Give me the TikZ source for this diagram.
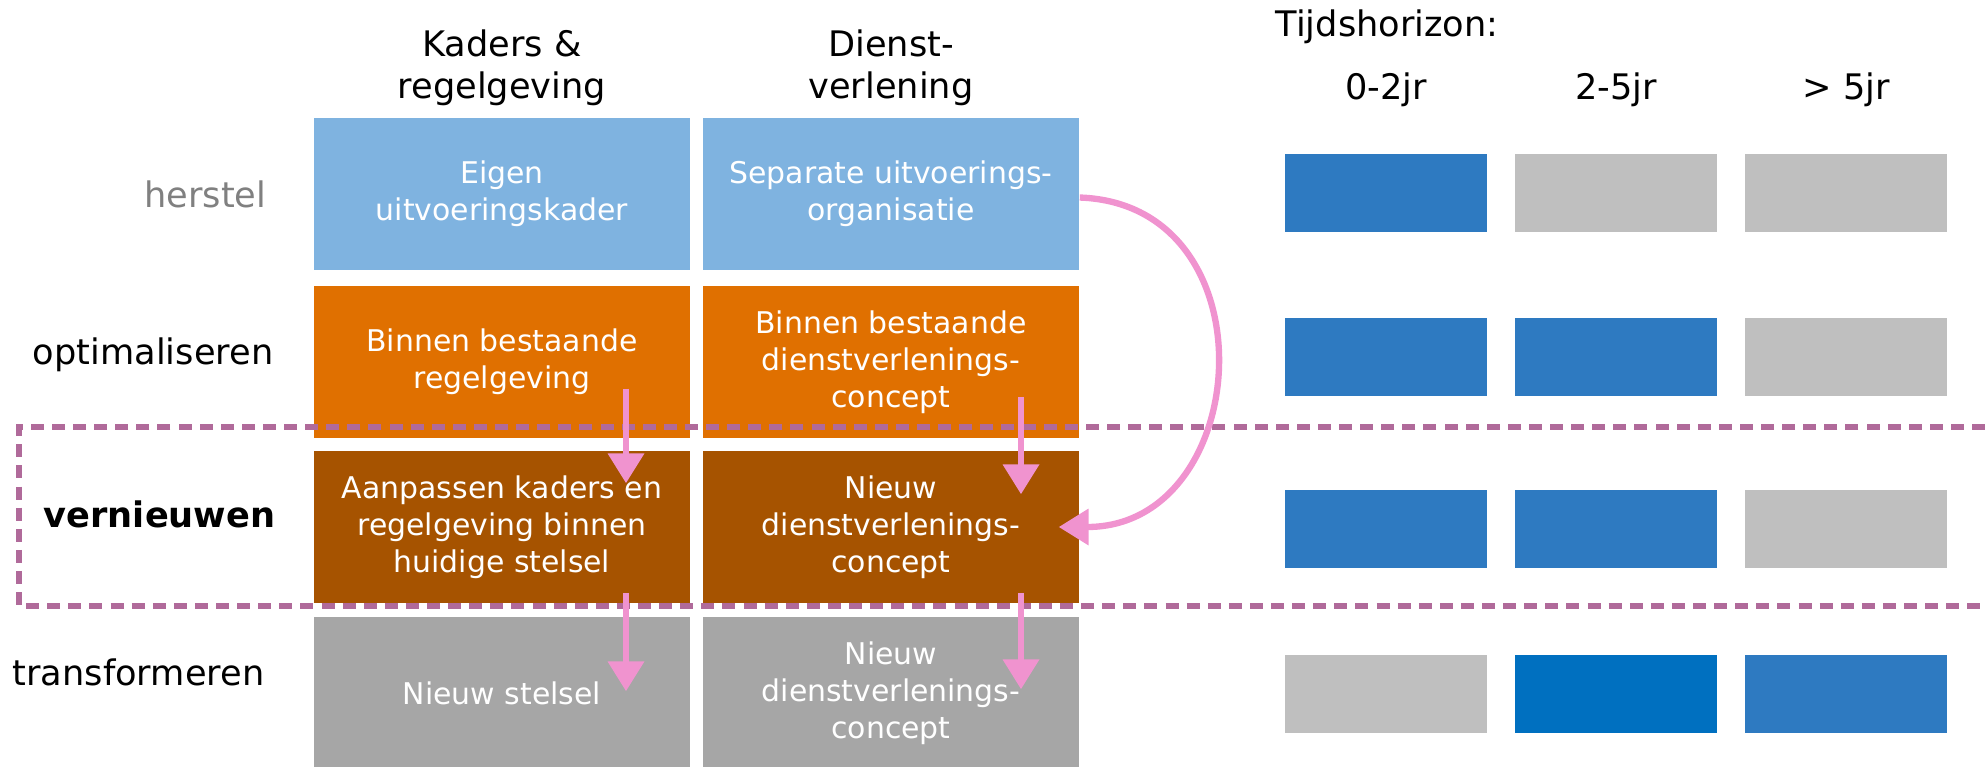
\documentclass[tikz,border=0pt]{standalone}
\usepackage{fontspec}
\setmainfont{DejaVu Sans}
\usetikzlibrary{arrows.meta}

\definecolor{hblue}{HTML}{7FB3E0}
\definecolor{oorange}{HTML}{E07000}
\definecolor{vbrown}{HTML}{A65300}
\definecolor{tgrey}{HTML}{A6A6A6}
\definecolor{bblue}{HTML}{2E7AC1}
\definecolor{dblue}{HTML}{0070C0}
\definecolor{lgrey}{HTML}{BFBFBF}
\definecolor{pinkarr}{HTML}{F093CF}
\definecolor{dashpurple}{HTML}{B06A9A}

\begin{document}
\begin{tikzpicture}[
    x=0.01cm, y=-0.01cm,
    cell/.style={minimum width=3.76cm, minimum height=1.52cm, inner sep=0pt,
                 align=center, text=white, font=\fontsize{8.5}{10.5}\selectfont},
    bar/.style={minimum width=2.02cm, minimum height=0.77cm, inner sep=0pt},
    head/.style={align=center, inner sep=0pt, font=\fontsize{10}{12}\selectfont},
    rowlabel/.style={anchor=base east, inner sep=0pt, font=\fontsize{10}{12}\selectfont},
    flow/.style={-{Triangle[length=8.5pt, width=10pt]}, line width=1.8pt, pinkarr}
]
    \useasboundingbox (0,0) rectangle (1985,767);

    % Column headers
    \node[head, anchor=base] (kaders) at (502,99) {Kaders \&\\regelgeving};
    \node[head, anchor=base] (dienst) at (891,99) {Dienst-\\verlening};

    % Row labels
    \node[rowlabel, text=gray] (herstel) at (267,208) {herstel};
    \node[rowlabel] (optim) at (274,364) {optimaliseren};
    \node[rowlabel, font=\fontsize{10}{12}\selectfont\bfseries] (vernieuw) at (276,527) {vernieuwen};
    \node[rowlabel] (transf) at (265,685) {transformeren};

    % Matrix cells
    \node[cell, fill=hblue] (eigen) at (502,194) {Eigen\\uitvoeringskader};
    \node[cell, fill=hblue] (separ) at (891,194) {Separate uitvoerings-\\organisatie};
    \node[cell, fill=oorange] (binreg) at (502,362) {Binnen bestaande\\regelgeving};
    \node[cell, fill=oorange] (bindv) at (891,362) {Binnen bestaande\\dienstverlenings-\\concept};
    \node[cell, fill=vbrown] (aanp) at (502,527) {Aanpassen kaders en\\regelgeving binnen\\huidige stelsel};
    \node[cell, fill=vbrown] (nieuwdv) at (891,527) {Nieuw\\dienstverlenings-\\concept};
    \node[cell, fill=tgrey] (stelsel) at (502,693) {Nieuw stelsel};
    \node[cell, fill=tgrey] (nieuwdv2) at (891,693) {Nieuw\\dienstverlenings-\\concept};

    % Dashed frame round vernieuwen
    \draw[dashpurple, line width=1.5pt, dash pattern=on 3.7pt off 2.3pt]
        (1985,427) -- (19,427) -- (19,606) -- (1985,606);

    % Time horizon
    \node[head, anchor=base west] (tijd) at (1275,37) {Tijdshorizon:};
    \node[head, anchor=base] (t1) at (1386,100) {0-2jr};
    \node[head, anchor=base] (t2) at (1616,100) {2-5jr};
    \node[head, anchor=base] (t3) at (1846,100) {> 5jr};

    \node[bar, fill=bblue] (h1) at (1386,193) {};
    \node[bar, fill=lgrey] (h2) at (1616,193) {};
    \node[bar, fill=lgrey] (h3) at (1846,193) {};
    \node[bar, fill=bblue] (o1) at (1386,357) {};
    \node[bar, fill=bblue] (o2) at (1616,357) {};
    \node[bar, fill=lgrey] (o3) at (1846,357) {};
    \node[bar, fill=bblue] (v1) at (1386,529) {};
    \node[bar, fill=bblue] (v2) at (1616,529) {};
    \node[bar, fill=lgrey] (v3) at (1846,529) {};
    \node[bar, fill=lgrey] (r1) at (1386,694) {};
    \node[bar, fill=dblue] (r2) at (1616,694) {};
    \node[bar, fill=bblue] (r3) at (1846,694) {};

    % Pink arrows
    \draw[flow] ([shift={(124,-50)}]binreg.south) -- ([shift={(124,33)}]aanp.north);
    \draw[flow] ([shift={(124,-11)}]aanp.south) -- ([shift={(124,75)}]stelsel.north);
    \draw[flow] ([shift={(130,-42)}]bindv.south) -- ([shift={(130,44)}]nieuwdv.north);
    \draw[flow] ([shift={(130,-11)}]nieuwdv.south) -- ([shift={(130,73)}]nieuwdv2.north);
    \draw[flow] ([yshift=-1]separ.east) .. controls +(195,7) and +(195,0) .. ([xshift=-6]nieuwdv.east);
\end{tikzpicture}
\end{document}
